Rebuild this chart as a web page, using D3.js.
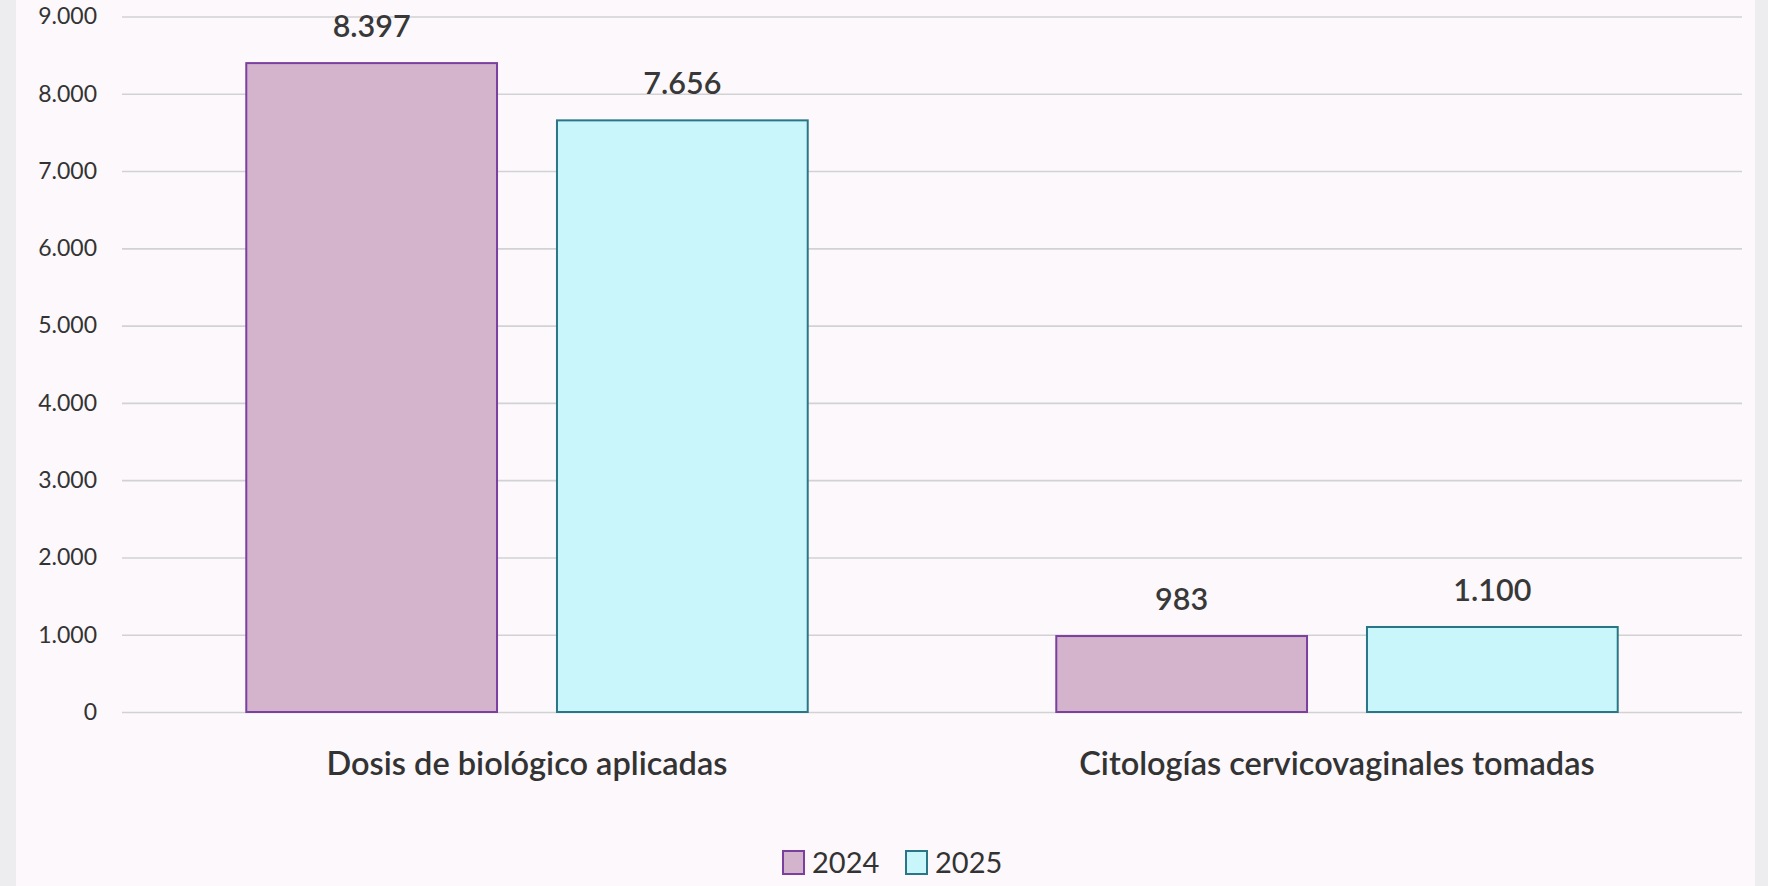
<!DOCTYPE html>
<meta charset="utf-8">
<script src="https://d3js.org/d3.v7.min.js"></script>
<html>
<head>
  <title>Dosis y citologías 2024 - 2025</title>
  <style>
    body { margin: 0; background: #ededf0; }
    #my_dataviz svg { display: block; }
  </style>
</head>
<body>
  <div id="my_dataviz"></div>

<script>
// chart values
var categories = ["Dosis de biológico aplicadas", "Citologías cervicovaginales tomadas"];
var years = ["2024", "2025"];
var values2024 = [8397, 983];
var values2025 = [7656, 1100];
var yTicks = [0, 1000, 2000, 3000, 4000, 5000, 6000, 7000, 8000, 9000];

var width = 1768, height = 886;
var fillColor = {"2024": "#d4b3cd", "2025": "#c8f6fa"};
var strokeColor = {"2024": "#7b3fa0", "2025": "#2b7686"};
var fontFam = "Lato, 'Open Sans', sans-serif";

// spanish number format: 8.397
var es = d3.formatLocale({decimal: ",", thousands: ".", grouping: [3], currency: ["$", ""]});
var fmt = es.format(",d");

var data = categories.map(function(c, i) {
  return {cat: c, vals: [{year: "2024", v: values2024[i]}, {year: "2025", v: values2025[i]}]};
});

var svg = d3.select("#my_dataviz")
  .append("svg")
    .attr("width", width)
    .attr("height", height);

// page background + panel
svg.append("rect").attr("width", width).attr("height", height).attr("fill", "#ededf0");
svg.append("rect")
  .attr("x", 16).attr("y", 0)
  .attr("width", 1755 - 16).attr("height", height)
  .attr("fill", "#fcf8fb");

// scales
var x0 = d3.scaleBand()
  .domain(categories)
  .range([122, 1742])
  .padding(0);

var x1 = d3.scaleBand()
  .domain(years)
  .range([0, x0.bandwidth()])
  .paddingInner(0.193)
  .paddingOuter(0.4);

var y = d3.scaleLinear()
  .domain([0, 9000])
  .range([712, 16.5]);

// Y axis with gridlines
var yAxis = svg.append("g")
  .attr("transform", "translate(122,0)")
  .call(d3.axisLeft(y)
    .tickValues(yTicks)
    .tickSize(-(1742 - 122))
    .tickPadding(25)
    .tickFormat(fmt));
yAxis.select(".domain").remove();
yAxis.selectAll("line")
  .attr("stroke", "#d2d2d4")
  .attr("stroke-width", 1.6);
yAxis.selectAll("text")
  .attr("fill", "#333")
  .style("font-family", fontFam)
  .style("font-size", "23px");

// bars
var groups = svg.selectAll(".grp")
  .data(data)
  .enter()
  .append("g")
    .attr("class", "grp")
    .attr("transform", function(d) { return "translate(" + x0(d.cat) + ",0)"; });

groups.selectAll("rect")
  .data(function(d) { return d.vals; })
  .enter()
  .append("rect")
    .attr("x", function(d) { return x1(d.year); })
    .attr("y", function(d) { return y(d.v); })
    .attr("width", x1.bandwidth())
    .attr("height", function(d) { return y(0) - y(d.v); })
    .attr("fill", function(d) { return fillColor[d.year]; })
    .attr("stroke", function(d) { return strokeColor[d.year]; })
    .attr("stroke-width", 2);

// value labels
groups.selectAll(".val")
  .data(function(d) { return d.vals; })
  .enter()
  .append("text")
    .attr("class", "val")
    .attr("x", function(d) { return x1(d.year) + x1.bandwidth() / 2; })
    .attr("y", function(d) { return y(d.v) - 26; })
    .attr("text-anchor", "middle")
    .attr("fill", "#383838")
    .style("font-family", fontFam)
    .style("font-size", "30.5px")
    .style("font-weight", 600)
    .text(function(d) { return fmt(d.v); });

// category labels
svg.selectAll(".cat")
  .data(categories)
  .enter()
  .append("text")
    .attr("class", "cat")
    .attr("x", function(d) { return x0(d) + x0.bandwidth() / 2; })
    .attr("y", 775)
    .attr("text-anchor", "middle")
    .attr("fill", "#333")
    .style("font-family", fontFam)
    .style("font-size", "32.5px")
    .style("font-weight", 600)
    .text(function(d) { return d; });

// legend
var legendX = {"2024": 783, "2025": 906};
var legend = svg.selectAll(".leg")
  .data(years)
  .enter()
  .append("g")
    .attr("class", "leg")
    .attr("transform", function(d) { return "translate(" + legendX[d] + ",851)"; });
legend.append("rect")
  .attr("width", 21).attr("height", 23)
  .attr("fill", function(d) { return fillColor[d]; })
  .attr("stroke", function(d) { return strokeColor[d]; })
  .attr("stroke-width", 2);
legend.append("text")
  .attr("x", 29)
  .attr("y", 22)
  .attr("fill", "#333")
  .style("font-family", fontFam)
  .style("font-size", "29px")
  .text(function(d) { return d; });
</script>
</body>
</html>
